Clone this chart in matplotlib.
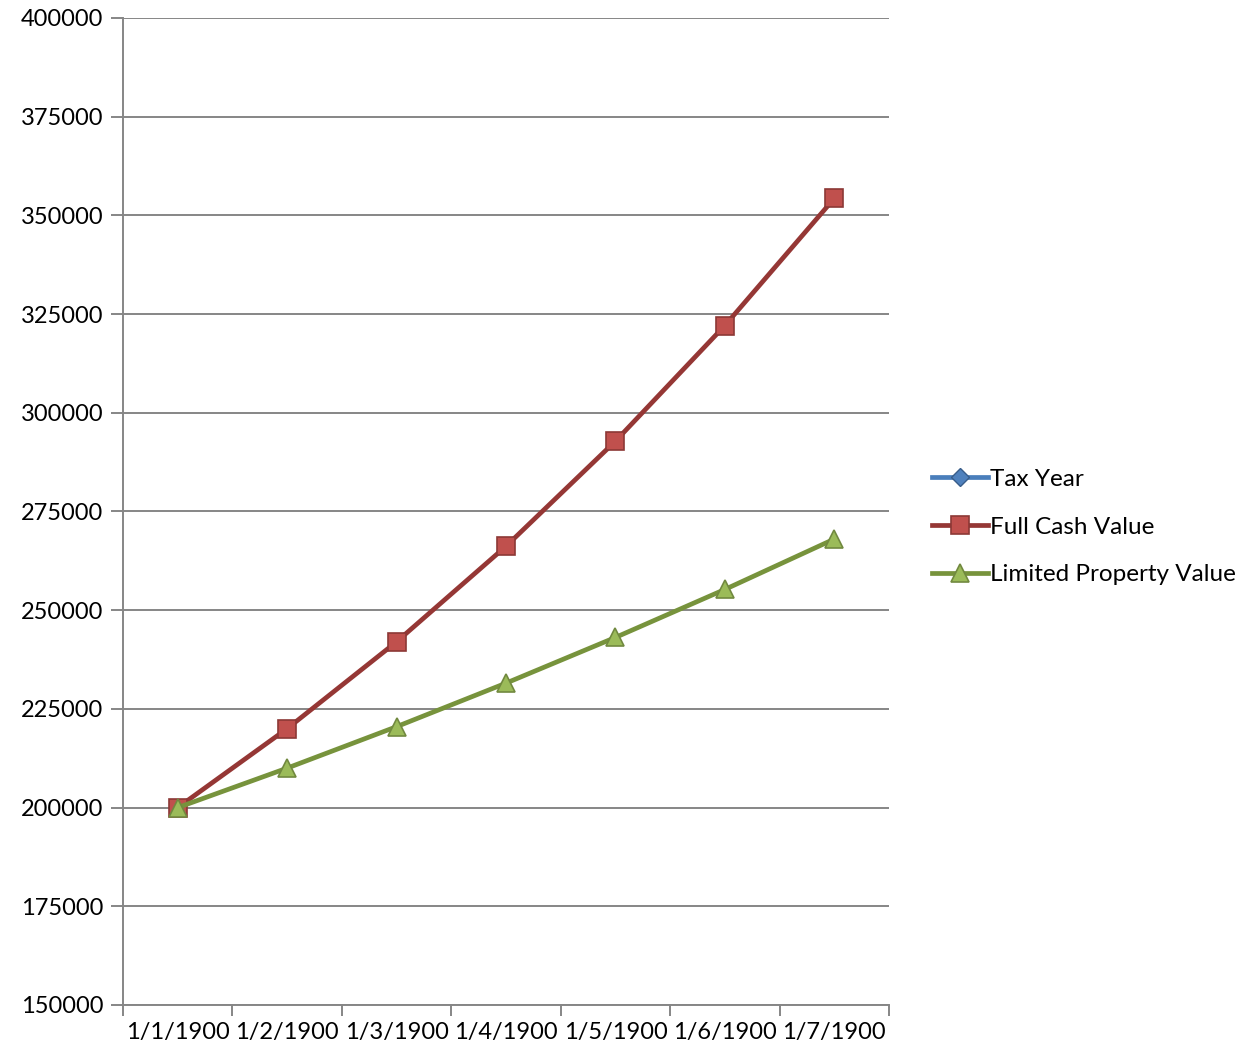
import matplotlib.pyplot as plt
from matplotlib.ticker import MultipleLocator

# categories and series
dates = ['1/1/1900', '1/2/1900', '1/3/1900', '1/4/1900', '1/5/1900', '1/6/1900', '1/7/1900']
tax_year = [1, 2, 3, 4, 5, 6, 7]
full_cash = [200000, 220000, 242000, 266200, 292820, 322102, 354312]
limited_value = [200000, 210000, 220500, 231525, 243101, 255256, 268019]

plt.rcParams['font.family'] = ['Lato', 'DejaVu Sans']

fig = plt.figure(figsize=(12.47, 10.47), dpi=100)
ax = fig.add_axes([123/1247, 1 - 1005/1047, (889-123)/1247, (1005-18)/1047])

x = list(range(len(dates)))
gray = '#868686'

ax.plot(x, tax_year, color='#4A7EBB', lw=3.4, marker='D', ms=9,
        mfc='#4F81BD', mec='#385D8A', label='Tax Year', zorder=3)
ax.plot(x, full_cash, color='#953735', lw=3.4, marker='s', ms=12.5,
        mfc='#C0504D', mec='#8C3836', mew=1.2, label='Full Cash Value', zorder=3)
ax.plot(x, limited_value, color='#77933C', lw=3.4, marker='^', ms=13,
        mfc='#9BBB59', mec='#71893F', mew=1.2, label='Limited Property Value', zorder=4)

ax.set_ylim(150000, 400000)
ax.set_xlim(-0.5, 6.5)
ax.yaxis.set_major_locator(MultipleLocator(25000))
ax.grid(axis='y', color=gray, lw=1.4)
ax.set_axisbelow(True)

# category boundaries get the x ticks, labels sit in between
ax.set_xticks([i - 0.5 for i in range(len(dates) + 1)])
ax.set_xticklabels([])
ax.set_xticks(x, minor=True)
ax.set_xticklabels(dates, minor=True, fontsize=17)
ax.tick_params(axis='x', which='minor', length=0, pad=12)
ax.tick_params(axis='x', which='major', length=8, width=1.4, color=gray)
ax.tick_params(axis='y', length=9, width=1.4, color=gray, labelsize=17, pad=5)

for side in ['top', 'right']:
    ax.spines[side].set_visible(False)
for side in ['left', 'bottom']:
    ax.spines[side].set_color(gray)
    ax.spines[side].set_linewidth(1.4)

fig.legend(loc='center left', bbox_to_anchor=(922/1247, 1 - 527/1047),
           frameon=False, fontsize=17.5, handlelength=2.3, handletextpad=0.08,
           labelspacing=1.1, borderaxespad=0)

plt.savefig('out.png', dpi=100)
